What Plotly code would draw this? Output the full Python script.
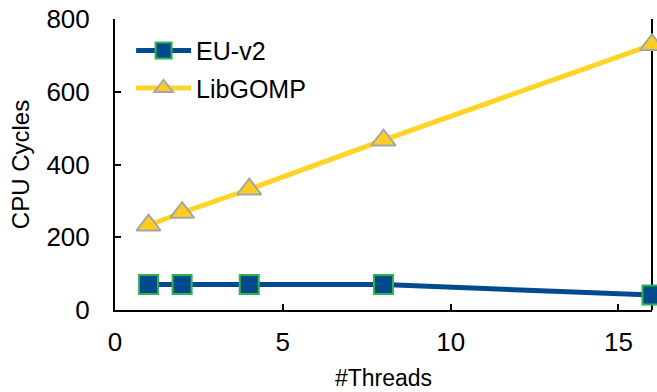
import plotly.graph_objects as go

threads = [1, 2, 4, 8, 16]
eu_v2 = [70, 70, 70, 70, 41]
libgomp = [233, 268, 332, 467, 729]

FONT = "Arial, Liberation Sans, sans-serif"

fig = go.Figure()

fig.add_trace(go.Scatter(
    x=threads, y=eu_v2, name="EU-v2", mode="lines+markers",
    legendgroup="a",
    line=dict(color="#004a8d", width=5),
    marker=dict(symbol="square", size=19, color="#004a8d",
                line=dict(color="#2eb34f", width=2)),
    cliponaxis=False,
))
fig.add_trace(go.Scatter(
    x=threads, y=libgomp, name="LibGOMP", mode="lines+markers",
    legendgroup="b",
    line=dict(color="#ffd426", width=5),
    marker=dict(symbol="triangle-up", size=21, color="#ffcc22",
                line=dict(color="#a6a6a6", width=2)),
    cliponaxis=False,
))

# right-hand border of the plotting area
fig.add_shape(type="line", xref="paper", yref="paper",
              x0=1, x1=1, y0=0, y1=1,
              line=dict(color="black", width=2), layer="below")

fig.update_layout(
    width=657, height=392,
    margin=dict(l=115, r=5, t=19, b=82),
    paper_bgcolor="white", plot_bgcolor="white",
    font=dict(family=FONT, size=26, color="black"),
    showlegend=True,
    legend=dict(x=0.03, y=0.97, xanchor="left", yanchor="top",
                bgcolor="rgba(0,0,0,0)", font=dict(size=25),
                tracegroupgap=2, itemwidth=55),
    xaxis=dict(
        range=[0, 16], tickvals=[0, 5, 10, 15],
        showline=True, linecolor="black", linewidth=2,
        ticks="inside", ticklen=6, tickcolor="black", tickwidth=2,
        showgrid=False, zeroline=False,
        tickfont=dict(size=26), ticklabelstandoff=8,
        title=dict(text="#Threads", font=dict(size=23), standoff=14),
    ),
    yaxis=dict(
        range=[0, 800], tickvals=[0, 200, 400, 600, 800],
        showline=True, linecolor="black", linewidth=2,
        ticks="inside", ticklen=6, tickcolor="black", tickwidth=2,
        showgrid=False, zeroline=False,
        tickfont=dict(size=26), ticklabelstandoff=18,
        title=dict(text="CPU Cycles", font=dict(size=24), standoff=10),
    ),
)

fig.write_html("out.html")
